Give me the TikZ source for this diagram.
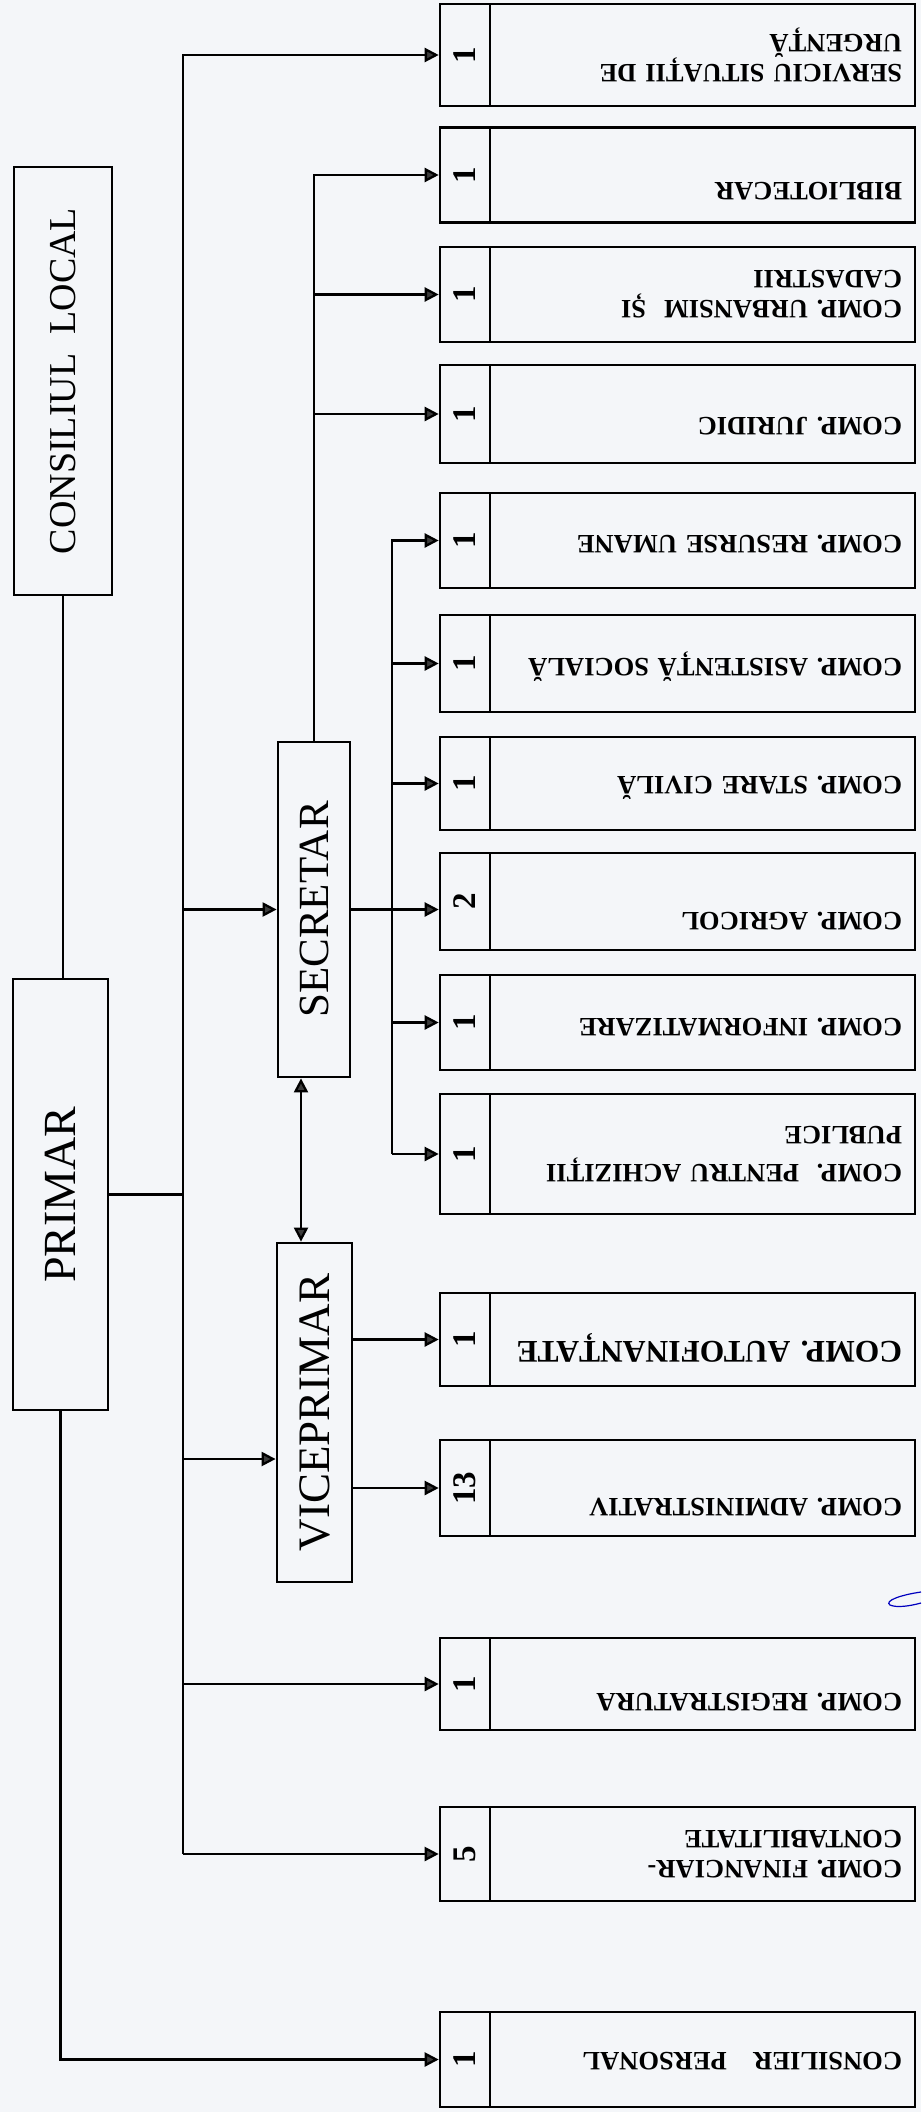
\documentclass[tikz,border=0pt]{standalone}
\usepackage{fontspec}
\setmainfont{Liberation Serif}
\usetikzlibrary{arrows.meta}
\definecolor{paper}{RGB}{244,246,249}
\definecolor{tipgray}{RGB}{60,60,60}
\begin{document}
\begin{tikzpicture}[
    x=1pt, y=-1pt,
    lead/.style={rectangle, draw, line width=2.8pt, fill=paper, inner sep=0pt},
    numbox/.style={rectangle, draw, line width=2.6pt, minimum width=50pt, minimum height=95pt, inner sep=0pt, font=\bfseries\fontsize{33}{35}\selectfont},
    unit/.style={rectangle, draw, line width=2.6pt, rotate=180, minimum width=425pt, minimum height=95pt, text width=399pt, inner xsep=13pt, inner ysep=0pt, align=left, font=\bfseries\fontsize{26.5}{30}\selectfont},
    drop/.style={text height=18pt, text depth=#1},
    link/.style={line width=2.3pt},
    arrow/.style={link, -{Triangle[length=14pt, width=14pt, fill=tipgray]}},
    both/.style={link, {Triangle[length=14pt, width=14pt, fill=tipgray]}-{Triangle[length=14pt, width=14pt, fill=tipgray]}},
]
\fill[paper] (0,0) rectangle (921,2112);
\useasboundingbox (0,0) rectangle (921,2112);

% Conducere
\node[lead, minimum width=98pt, minimum height=428pt, font=\fontsize{38}{40}\selectfont] (CL) at (63,381) {\rotatebox{90}{CONSILIUL\ \ LOCAL}};
\node[lead, minimum width=95pt, minimum height=431pt, font=\fontsize{46}{48}\selectfont] (PR) at (60.5,1194.5) {\rotatebox{90}{PRIMAR}};
\node[lead, minimum width=72pt, minimum height=335pt, font=\fontsize{43}{45}\selectfont] (SEC) at (314,909.5) {\rotatebox{90}{SECRETAR}};
\node[lead, minimum width=75pt, minimum height=339pt, font=\fontsize{45}{47}\selectfont] (VP) at (314.5,1412.5) {\rotatebox{90}{VICEPRIMAR}};

% Compartimente (nr. posturi + denumire)
\node[numbox, minimum height=102pt] (n1) at (465,55) {\rotatebox{90}{1}};
\node[unit, minimum height=102pt] (u1) at (702.5,55) {SERVICIU SITUAȚII DE\\URGENȚĂ};
\node[numbox] (n2) at (465,175) {\rotatebox{90}{1}};
\node[unit, drop=32pt] (u2) at (702.5,175) {BIBLIOTECAR};
\node[numbox] (n3) at (465,294.5) {\rotatebox{90}{1}};
\node[unit] (u3) at (702.5,294.5) {COMP. URBANSIM\ \ ȘI\\CADASTRII};
\node[numbox, minimum height=98pt] (n4) at (465,414) {\rotatebox{90}{1}};
\node[unit, minimum height=98pt, drop=24pt] (u4) at (702.5,414) {COMP. JURIDIC};
\node[numbox] (n5) at (465,540.5) {\rotatebox{90}{1}};
\node[unit, drop=8pt] (u5) at (702.5,540.5) {COMP. RESURSE UMANE};
\node[numbox, minimum height=97pt] (n6) at (465,663.5) {\rotatebox{90}{1}};
\node[unit, minimum height=97pt, drop=8pt] (u6) at (702.5,663.5) {COMP. ASISTENȚĂ SOCIALĂ};
\node[numbox, minimum height=93pt] (n7) at (465,783.5) {\rotatebox{90}{1}};
\node[unit, minimum height=93pt, drop=4pt] (u7) at (702.5,783.5) {COMP. STARE CIVILĂ};
\node[numbox, minimum height=97pt] (n8) at (465,901.5) {\rotatebox{90}{2}};
\node[unit, minimum height=97pt, drop=40pt] (u8) at (702.5,901.5) {COMP. AGRICOL};
\node[numbox] (n9) at (465,1022.5) {\rotatebox{90}{1}};
\node[unit, drop=10pt] (u9) at (702.5,1022.5) {COMP. INFORMATIZARE};
\node[numbox, minimum height=120pt] (n10) at (465,1154) {\rotatebox{90}{1}};
\node[unit, minimum height=120pt, font=\bfseries\fontsize{26.5}{38}\selectfont] (u10) at (702.5,1154) {COMP.\ \ PENTRU ACHIZIȚII\\PUBLICE};
\node[numbox, minimum height=93pt] (n11) at (465,1339.5) {\rotatebox{90}{1}};
\node[unit, minimum height=93pt, drop=22pt, font=\bfseries\fontsize{31.5}{34}\selectfont] (u11) at (702.5,1339.5) {COMP. AUTOFINANȚATE};
\node[numbox, minimum height=96pt] (n12) at (465,1488) {\rotatebox{90}{13}};
\node[unit, minimum height=96pt, drop=38pt] (u12) at (702.5,1488) {COMP. ADMINISTRATIV};
\node[numbox, minimum height=92pt] (n13) at (465,1684) {\rotatebox{90}{1}};
\node[unit, minimum height=92pt, drop=36pt] (u13) at (702.5,1684) {COMP. REGISTRATURA};
\node[numbox, minimum height=94pt] (n14) at (465,1854) {\rotatebox{90}{5}};
\node[unit, minimum height=94pt] (u14) at (702.5,1854) {COMP. FINANCIAR-\\CONTABILITATE};
\node[numbox] (n15) at (465,2059.5) {\rotatebox{90}{1}};
\node[unit, drop=4pt] (u15) at (702.5,2059.5) {CONSILIER~~~PERSONAL};

% Magistrale
\coordinate (bus) at (183,0);
\coordinate (bus2) at (392,0);
\coordinate (vpin) at ([yshift=-46.5pt]VP.west);
\coordinate (sv) at ([xshift=-13pt]SEC.south);

% Primar
\draw[link] (CL.south) -- (CL.south |- PR.north);
\draw[link] (PR.east) -- (PR.east -| bus);
\draw[arrow] (bus |- n14.west) -- (bus |- n1.west) -- (n1.west);
\draw[arrow] (bus |- SEC.west) -- (SEC.west);
\draw[arrow] (bus |- vpin) -- (vpin);
\draw[arrow] (bus |- n13.west) -- (n13.west);
\draw[arrow] (bus |- n14.west) -- (n14.west);
\draw[arrow] (PR.south) |- (n15.west);

% Secretar
\draw[arrow] (SEC.north) |- (n2.west);
\draw[arrow] (SEC.north |- n3.west) -- (n3.west);
\draw[arrow] (SEC.north |- n4.west) -- (n4.west);
\draw[arrow] (SEC.east) -- (SEC.east -| n8.west);
\draw[arrow] (bus2 |- n10.west) -- (bus2 |- n5.west) -- (n5.west);
\draw[arrow] (bus2 |- n6.west) -- (n6.west);
\draw[arrow] (bus2 |- n7.west) -- (n7.west);
\draw[arrow] (bus2 |- n9.west) -- (n9.west);
\draw[arrow] (bus2 |- n10.west) -- (n10.west);
\draw[both] (sv) -- (sv |- VP.north);

% Viceprimar
\draw[arrow] (VP.east |- n11.west) -- (n11.west);
\draw[arrow] (VP.east |- n12.west) -- (n12.west);

% urma de pix
\draw[blue!75!black, line width=1.2pt] (921,1592) .. controls (900,1595) and (884,1601) .. (890,1605) .. controls (897,1608) and (910,1606) .. (921,1603);
\end{tikzpicture}
\end{document}
